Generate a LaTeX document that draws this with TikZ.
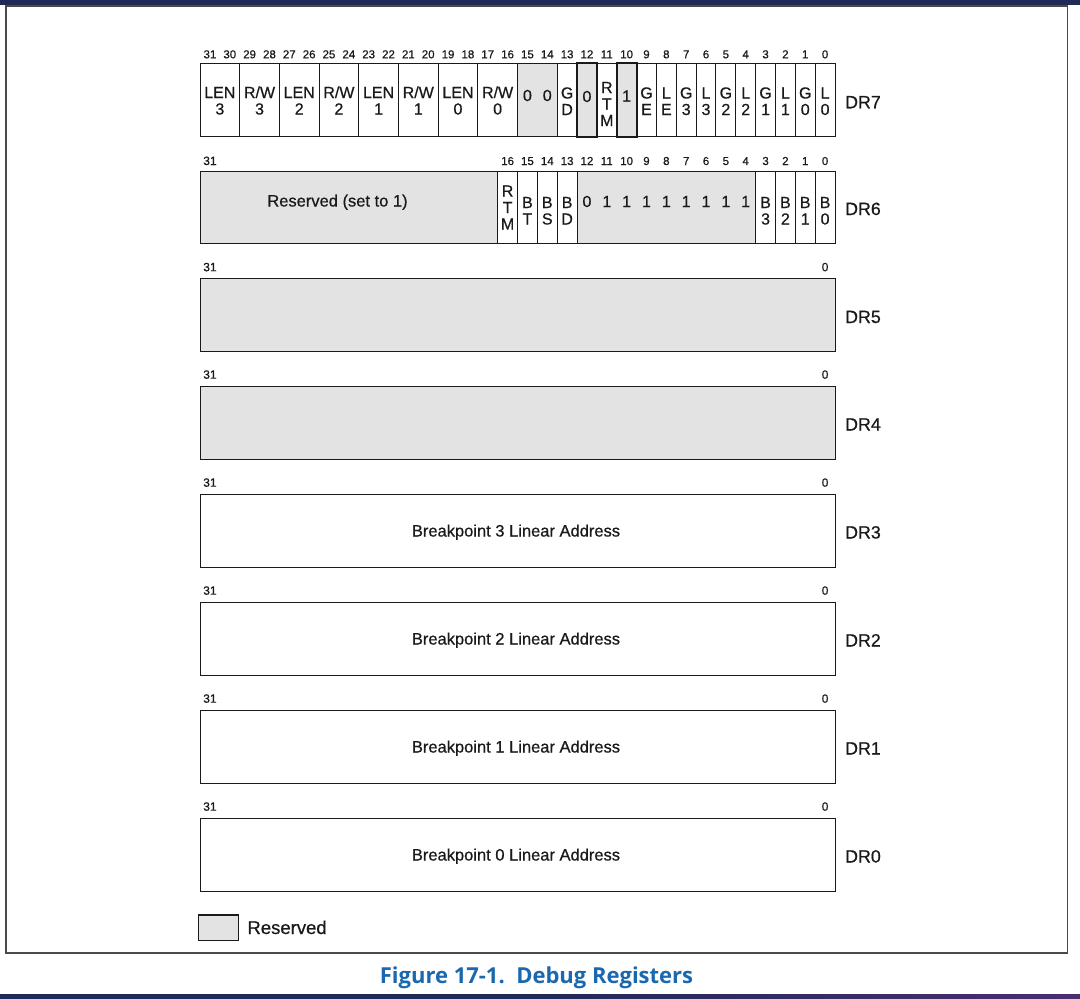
\documentclass[tikz,border=0pt]{standalone}
\usepackage{fontspec}
\setmainfont{Liberation Sans}[FakeBold=0.6]
\newfontfamily\capfont{Open Sans}
\definecolor{resgray}{HTML}{E3E3E3}
\definecolor{ink}{HTML}{1A1A1A}
\definecolor{framegray}{HTML}{4A4A4A}
\definecolor{navy}{HTML}{1F2A57}
\definecolor{plum}{HTML}{4B2E6E}
\definecolor{capblue}{HTML}{1A68AF}
\newcommand\bl[1]{(200+(31-(#1))*19.84375)}
\newcommand\br[1]{(200+(32-(#1))*19.84375)}
\newcommand\bc[1]{(200+(31.5-(#1))*19.84375)}
\newcommand\rwtxt{R/W}
\tikzset{
  cellbox/.style={draw=ink, line width=0.9pt},
  resbox/.style={cellbox, fill=resgray},
  thickres/.style={draw=ink, line width=2pt, fill=resgray},
  celltxt/.style={font=\fontsize{16}{17}\selectfont, text=ink, inner sep=0pt, anchor=base},
  bitnum/.style={font=\fontsize{12}{13}\selectfont, text=ink, inner sep=0pt, anchor=base},
  bitnumsm/.style={bitnum, font=\fontsize{11.5}{12}\selectfont},
  bigtxt/.style={font=\fontsize{16.5}{18}\selectfont, text=ink, inner sep=0pt, anchor=base},
  regname/.style={font=\fontsize{17.8}{19}\selectfont, text=ink, inner sep=0pt, anchor=base west},
}
% \vlines{name}{x}{first baseline}{list of lines}
\newcommand\vlines[4]{\foreach \lineTxt [count=\lnum] in {#4}{\node[celltxt] (#1-\lnum) at ({#2},{#3+(\lnum-1)*16.5}) {\lineTxt};}}
\begin{document}
\begin{tikzpicture}[x=1pt,y=-1pt]
\fill[white] (0,0) rectangle (1080,999);
\useasboundingbox (0,0) rectangle (1080,999);
% bars and frame
\fill[navy] (0,0) rectangle (1080,4.5);
\shade[left color=navy, right color=plum, middle color=navy] (0,994) rectangle (1080,999);
\draw[framegray, line width=1.4pt] (6,6) rectangle (1067.5,953);

% ---------------- DR7 ----------------
\foreach \hi/\a/\b in {31/LEN/3,29/\rwtxt/3,27/LEN/2,25/\rwtxt/2,23/LEN/1,21/\rwtxt/1,19/LEN/0,17/\rwtxt/0}{
  \draw[cellbox] ({\bl{\hi}},63) rectangle ({\br{\hi-1}},136.5);
  \vlines{f7-\hi}{\br{\hi}}{98}{\a,\b}
}
\draw[resbox] ({\bl{15}},63) rectangle ({\br{14}},136.5);
\node[celltxt] (z15) at ({\bc{15}},101) {0};
\node[celltxt] (z14) at ({\bc{14}},101) {0};
\draw[cellbox] ({\bl{13}},63) rectangle ({\br{13}},136.5);
\vlines{gd}{\bc{13}}{98.5}{G,D}
\draw[cellbox] ({\bl{11}},63) rectangle ({\br{11}},136.5);
\vlines{rtm7}{\bc{11}}{93}{R,T,M}
\foreach \n/\a/\b in {9/G/E,8/L/E,7/G/3,6/L/3,5/G/2,4/L/2,3/G/1,2/L/1,1/G/0,0/L/0}{
  \draw[cellbox] ({\bl{\n}},63) rectangle ({\br{\n}},136.5);
  \vlines{e7-\n}{\bc{\n}}{98.5}{\a,\b}
}
\draw[thickres] ({\bl{12}},63) rectangle ({\br{12}},136.5);
\node[celltxt] (z12) at ({\bc{12}},102) {0};
\draw[thickres] ({\bl{10}},63) rectangle ({\br{10}},136.5);
\node[celltxt] (o10) at ({\bc{10}},101.5) {1};
\foreach \n in {0,...,31}{\node[bitnumsm] (n7-\n) at ({\bc{\n}},58.3) {\n};}
\node[regname] (DR7) at (845,108.3) {DR7};

% ---------------- DR6 ----------------
\draw[resbox] ({\bl{31}},171) rectangle ({\br{17}},243.5);
\node[bigtxt] (res6) at (337.5,206.5) {Reserved (set to 1)};
\draw[cellbox] ({\bl{16}},171) rectangle ({\br{16}},243.5);
\vlines{rtm6}{\bc{16}}{196.5}{R,T,M}
\foreach \n/\a/\b in {15/B/T,14/B/S,13/B/D,3/B/3,2/B/2,1/B/1,0/B/0}{
  \draw[cellbox] ({\bl{\n}},171) rectangle ({\br{\n}},243.5);
  \vlines{b6-\n}{\bc{\n}}{208}{\a,\b}
}
\draw[resbox] ({\bl{12}},171) rectangle ({\br{4}},243.5);
\foreach \n/\v in {12/0,11/1,10/1,9/1,8/1,7/1,6/1,5/1,4/1}{
  \node[celltxt] (d6-\n) at ({\bc{\n}},207) {\v};
}
\node[bitnum] (n6-31) at ({\bc{31}},165) {31};
\foreach \n in {0,...,16}{\node[bitnumsm] (n6-\n) at ({\bc{\n}},165) {\n};}
\node[regname] (DR6) at (845,215) {DR6};

% ---------------- DR5 .. DR0 ----------------
\foreach \r/\tp/\fc in {5/278.5/resgray,4/386/resgray,3/494/white,2/602/white,1/710/white,0/818/white}{
  \draw[cellbox, fill=\fc] ({\bl{31}},\tp) rectangle ({\br{0}},{\tp+73});
  \node[bitnum] (h\r) at ({\bc{31}},{\tp-7.3}) {31};
  \node[bitnum] (l\r) at ({\bc{0}},{\tp-7.3}) {0};
  \node[regname] (DR\r) at (845,{\tp+36.5+8}) {DR\r};
}
\foreach \r/\tp in {3/494,2/602,1/710,0/818}{
  \node[bigtxt] (bp\r) at (516,{\tp+36.5+6}) {Breakpoint \r\ Linear Address};
}

% ---------------- legend and caption ----------------
\draw[resbox, line width=1.3pt] (198.3,915) rectangle (238.3,940.5);
\node[font=\fontsize{18.5}{20}\selectfont, text=ink, inner sep=0pt, anchor=base west] (legend) at (247.3,934) {Reserved};
\node[font=\capfont\bfseries\fontsize{22}{24}\selectfont, text=capblue, inner sep=0pt, anchor=base] (caption) at (536.5,983.5) {Figure 17-1.\ \ Debug Registers};
\end{tikzpicture}
\end{document}
